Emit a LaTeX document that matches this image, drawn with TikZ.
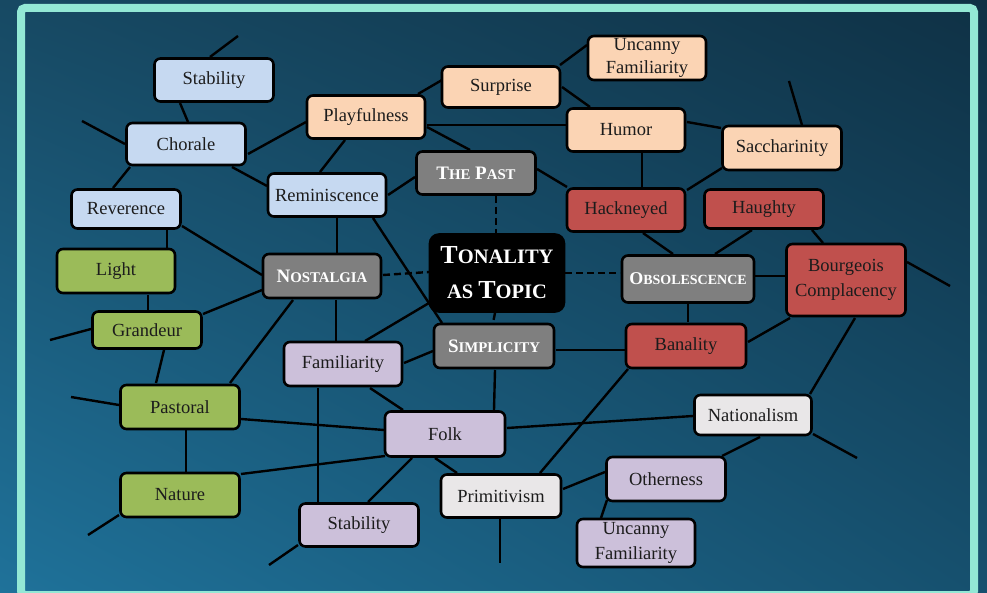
\documentclass[tikz,border=0pt]{standalone}
\usepackage{fontspec}
\setmainfont{Liberation Serif}
\usetikzlibrary{calc,shadings}

\definecolor{mint}{HTML}{93E8D5}
\definecolor{cblue}{HTML}{C6D9F1}
\definecolor{cpeach}{HTML}{FBD4B4}
\definecolor{cgreen}{HTML}{9BBB59}
\definecolor{cred}{HTML}{C0504D}
\definecolor{clav}{HTML}{CCC0DA}
\definecolor{cpale}{HTML}{E9E7E8}
\definecolor{cgrey}{HTML}{7F7F7F}
\definecolor{txt}{HTML}{1C1C1C}
\definecolor{bgUL}{HTML}{174963}
\definecolor{bgUR}{HTML}{0F3145}
\definecolor{bgLL}{HTML}{1F729A}
\definecolor{bgLR}{HTML}{16506E}

\pgfdeclarelayer{back}
\pgfdeclarelayer{edges}
\pgfsetlayers{back,edges,main}

% small caps built from two sizes of bold capitals
\newcommand\scword[2]{{\fontsize{19}{22}\selectfont #1}{\fontsize{14.8}{22}\selectfont #2}}
\newcommand\scwordn[2]{{\fontsize{18}{22}\selectfont #1}{\fontsize{14}{22}\selectfont #2}}
\newcommand\bigword[2]{{\fontsize{26}{35}\selectfont #1}{\fontsize{20.5}{35}\selectfont #2}}

\tikzset{
  box/.style={draw=black, line width=2.6pt, rounded corners=6pt,
    inner sep=1pt, text=txt, align=center,
    font=\fontsize{18.5}{23}\selectfont},
  sz/.style 2 args={minimum width=#1, minimum height=#2},
  bl/.style={box, fill=cblue},
  pe/.style={box, fill=cpeach},
  gr/.style={box, fill=cgreen},
  rd/.style={box, fill=cred},
  lv/.style={box, fill=clav},
  pl/.style={box, fill=cpale},
  hub/.style={box, fill=cgrey, text=white, font=\bfseries\fontsize{19}{22}\selectfont},
  core/.style={box, fill=black, text=white, rounded corners=9pt,
    font=\bfseries\fontsize{26}{35}\selectfont},
  link/.style={line width=2.4pt, draw=black},
  dlink/.style={link, dash pattern=on 7pt off 4pt},
}

\begin{document}
\begin{tikzpicture}[x=1pt, y=-1pt]
\useasboundingbox (0,0) rectangle (987,593);

% backdrop and frame
\begin{pgfonlayer}{back}
  \shade[upper left=bgUL, upper right=bgUR, lower left=bgLL, lower right=bgLR]
    (0,0) rectangle (987,593);
  \draw[mint, line width=8pt, rounded corners=4pt] (21,8) rectangle (974,595);
\end{pgfonlayer}

% central topic
\node[core, sz={134pt}{77pt}, inner sep=0pt] (ton) at (497,273) {\bigword{T}{ONALITY}\\\bigword{}{AS }\bigword{T}{OPIC}};

% hubs
\node[hub, sz={118pt}{44pt}] (nos)  at (322,276) {\scword{N}{OSTALGIA}};
\node[hub, sz={119pt}{43pt}] (past) at (476,173) {\scword{T}{HE} \scword{P}{AST}};
\node[hub, sz={120pt}{44pt}] (simp) at (494,346) {\scword{S}{IMPLICITY}};
\node[hub, sz={132pt}{47pt}, inner sep=0pt] (obs)  at (688,279) {\scwordn{O}{BSOLESCENCE}};

% blue group
\node[bl, sz={119pt}{43pt}] (stabA) at (214,80)  {Stability};
\node[bl, sz={119pt}{42pt}] (chor)  at (186,144) {Chorale};
\node[bl, sz={109pt}{39pt}] (rev)   at (126,209) {Reverence};
\node[bl, sz={118pt}{43pt}] (remi)  at (327,195) {Reminiscence};

% green group
\node[gr, sz={118pt}{44pt}] (light) at (116,271) {Light};
\node[gr, sz={109pt}{37pt}] (grand) at (147,330) {Grandeur};
\node[gr, sz={119pt}{44pt}] (pasto) at (180,407) {Pastoral};
\node[gr, sz={119pt}{44pt}] (natu)  at (180,495) {Nature};

% peach group
\node[pe, sz={118pt}{44pt}, inner sep=0pt] (uncA) at (647,58)  {Uncanny\\Familiarity};
\node[pe, sz={118pt}{43pt}] (play) at (366,117) {Playfulness};
\node[pe, sz={118pt}{41pt}] (surp) at (501,87)  {Surprise};
\node[pe, sz={118pt}{43pt}] (hum)  at (626,130) {Humor};
\node[pe, sz={119pt}{44pt}] (sac)  at (782,148) {Saccharinity};

% red group
\node[rd, sz={118pt}{43pt}] (hack) at (626,210) {Hackneyed};
\node[rd, sz={119pt}{39pt}] (haug) at (764,209) {Haughty};
\node[rd, sz={119pt}{72pt}, font=\fontsize{18.5}{25}\selectfont] (bour) at (846,280) {Bourgeois\\Complacency};
\node[rd, sz={120pt}{44pt}] (ban)  at (686,346) {Banality};

% lavender group
\node[lv, sz={118pt}{44pt}] (fam)   at (343,364) {Familiarity};
\node[lv, sz={119pt}{43pt}] (stabB) at (359,525) {Stability};
\node[lv, sz={120pt}{45pt}] (folk)  at (445,434) {Folk};
\node[lv, sz={119pt}{44pt}] (oth)   at (666,479) {Otherness};
\node[lv, sz={118pt}{48pt}, inner sep=0pt, font=\fontsize{18.5}{25}\selectfont] (uncB) at (636,543) {Uncanny\\Familiarity};

% pale group
\node[pl, sz={117pt}{40pt}] (natl) at (753,415) {Nationalism};
\node[pl, sz={120pt}{43pt}] (prim) at (501,496) {Primitivism};

% loose ends
\coordinate (f1)  at (238,36);
\coordinate (f2)  at (82,121);
\coordinate (f3)  at (50,340);
\coordinate (f4)  at (71,397);
\coordinate (f5)  at (88,535);
\coordinate (f6)  at (269,565);
\coordinate (f7)  at (789,81);
\coordinate (f8)  at (950,286);
\coordinate (f9)  at (857,458);
\coordinate (f10) at (500,563);

\begin{pgfonlayer}{edges}
  % dashed spokes of the central topic
  \draw[dlink] ($(nos)+(61,-1)$)   -- ($(ton)+(-68,-1)$);
  \draw[dlink] ($(past)+(20,23)$)  -- ($(ton)+(-1,-40)$);
  \draw[dlink] ($(ton)+(-2,40)$)   -- ($(simp)+(-1,-23)$);
  \draw[dlink] ($(ton)+(68,0)$)    -- ($(obs)+(-68,-6)$);

  % blue group
  \draw[link] ($(stabA)+(-4,-23)$) -- (f1);
  \draw[link] ($(stabA)+(-34,23)$) -- ($(chor)+(2,-22)$);
  \draw[link] ($(chor)+(-61,0)$)   -- (f2);
  \draw[link] ($(chor)+(62,10)$)   -- ($(play)+(-60,5)$);
  \draw[link] ($(chor)+(46,23)$)   -- ($(remi)+(-60,-9)$);
  \draw[link] ($(chor)+(-56,23)$)  -- ($(rev)+(-13,-21)$);
  \draw[link] ($(rev)+(41,21)$)    -- ($(light)+(51,-23)$);
  \draw[link] ($(rev)+(56,17)$)    -- ($(nos)+(-60,-1)$);
  \draw[link] ($(play)+(-21,23)$)  -- ($(remi)+(-7,-23)$);
  \draw[link] ($(remi)+(61,0)$)    -- ($(past)+(-61,4)$);
  \draw[link] ($(remi)+(10,23)$)   -- ($(nos)+(15,-23)$);
  \draw[link] ($(remi)+(46,23)$)   -- ($(simp)+(-52,-23)$);

  % green group
  \draw[link] ($(light)+(32,24)$)  -- ($(grand)+(1,-20)$);
  \draw[link] ($(nos)+(-60,14)$)   -- ($(grand)+(56,-16)$);
  \draw[link] ($(grand)+(-56,-1)$) -- (f3);
  \draw[link] ($(grand)+(17,20)$)  -- ($(pasto)+(-24,-24)$);
  \draw[link] ($(nos)+(-29,24)$)   -- ($(pasto)+(50,-24)$);
  \draw[link] ($(pasto)+(-61,-2)$) -- (f4);
  \draw[link] ($(pasto)+(61,12)$)  -- ($(folk)+(-61,-4)$);
  \draw[link] ($(pasto)+(6,23)$)   -- ($(natu)+(6,-23)$);
  \draw[link] ($(natu)+(61,-21)$)  -- ($(folk)+(-60,22)$);
  \draw[link] ($(natu)+(-61,20)$)  -- (f5);

  % lavender group
  \draw[link] ($(nos)+(14,24)$)    -- ($(fam)+(-7,-23)$);
  \draw[link] ($(fam)+(-25,24)$)   -- ($(stabB)+(-41,-23)$);
  \draw[link] ($(fam)+(27,24)$)    -- ($(folk)+(-42,-24)$);
  \draw[link] ($(fam)+(61,-1)$)    -- ($(simp)+(-61,5)$);
  \draw[link] ($(fam)+(22,-23)$)   -- ($(ton)+(-68,30)$);
  \draw[link] ($(folk)+(-33,24)$)  -- ($(stabB)+(9,-23)$);
  \draw[link] ($(folk)+(-10,24)$)  -- ($(prim)+(-44,-23)$);
  \draw[link] ($(stabB)+(-61,20)$) -- (f6);
  \draw[link] ($(simp)+(1,24)$)    -- ($(folk)+(49,-24)$);
  \draw[link] ($(folk)+(62,-6)$)   -- ($(natl)+(-60,1)$);
  \draw[link] ($(prim)+(62,-7)$)   -- ($(oth)+(-61,-7)$);
  \draw[link] ($(oth)+(-59,21)$)   -- ($(uncB)+(-35,-25)$);
  \draw[link] ($(prim)+(-1,23)$)   -- (f10);

  % peach group
  \draw[link] ($(play)+(61,10)$)   -- ($(past)+(-6,-23)$);
  \draw[link] ($(play)+(61,8)$)    -- ($(hum)+(-60,-5)$);
  \draw[link] ($(play)+(52,-23)$)  -- ($(surp)+(-59,-7)$);
  \draw[link] ($(surp)+(59,-22)$)  -- ($(uncA)+(-60,-13)$);
  \draw[link] ($(surp)+(61,0)$)    -- ($(hum)+(-36,-23)$);
  \draw[link] ($(hum)+(61,-8)$)    -- ($(sac)+(-61,-20)$);
  \draw[link] ($(sac)+(20,-23)$)   -- (f7);

  % red group
  \draw[link] ($(past)+(61,-4)$)   -- ($(hack)+(-59,-23)$);
  \draw[link] ($(hum)+(16,23)$)    -- ($(hack)+(16,-23)$);
  \draw[link] ($(sac)+(-60,20)$)   -- ($(hack)+(61,-20)$);
  \draw[link] ($(hack)+(17,23)$)   -- ($(obs)+(-15,-25)$);
  \draw[link] ($(haug)+(-12,21)$)  -- ($(obs)+(27,-25)$);
  \draw[link] ($(haug)+(48,21)$)   -- ($(bour)+(-23,-37)$);
  \draw[link] ($(obs)+(67,-3)$)    -- ($(bour)+(-61,-4)$);
  \draw[link] ($(bour)+(61,-18)$)  -- (f8);
  \draw[link] ($(obs)+(0,25)$)     -- ($(ban)+(2,-24)$);
  \draw[link] ($(simp)+(62,4)$)    -- ($(ban)+(-61,4)$);
  \draw[link] ($(ban)+(62,-4)$)    -- ($(bour)+(-56,38)$);
  \draw[link] ($(bour)+(9,38)$)    -- ($(natl)+(57,-21)$);
  \draw[link] ($(ban)+(-58,23)$)   -- ($(prim)+(39,-23)$);

  % pale group
  \draw[link] ($(natl)+(60,19)$)   -- (f9);
  \draw[link] ($(natl)+(7,22)$)    -- ($(oth)+(56,-23)$);
\end{pgfonlayer}
\end{tikzpicture}
\end{document}
